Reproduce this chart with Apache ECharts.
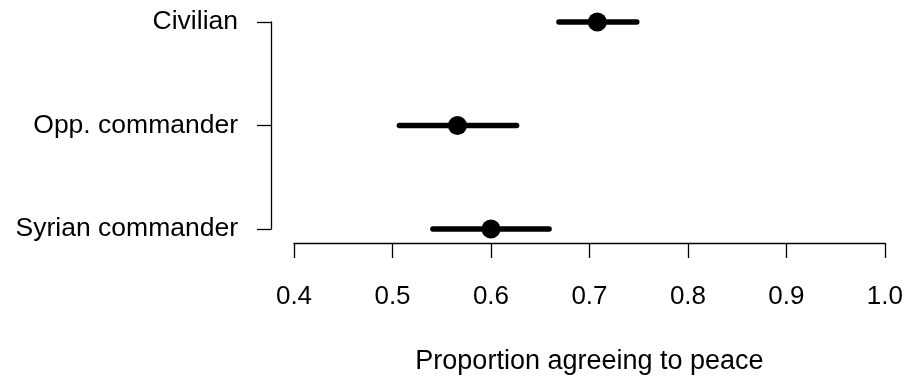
<!DOCTYPE html>
<html>
<head>
<meta charset="utf-8">
<script src="https://cdn.jsdelivr.net/npm/echarts@6/dist/echarts.min.js"></script>
<style>html,body{margin:0;padding:0;background:#fff}#c{width:906px;height:380px}</style>
</head>
<body>
<div id="c"></div>
<script>
var categories = ['Civilian', 'Opp. commander', 'Syrian commander'];
var estimates = [0.708, 0.566, 0.600];
var lower = [0.669, 0.507, 0.541];
var upper = [0.748, 0.626, 0.659];
var xTicks = [0.4, 0.5, 0.6, 0.7, 0.8, 0.9, 1.0];
var xTitle = 'Proportion agreeing to peace';

var FONT = 'Liberation Sans, Arial, Helvetica, sans-serif';
var chart = echarts.init(document.getElementById('c'), null, {renderer: 'canvas'});

var ciData = categories.map(function (c, i) { return [lower[i], upper[i], i]; });
var ptData = categories.map(function (c, i) { return [estimates[i], c]; });

chart.setOption({
  animation: false,
  backgroundColor: '#fff',
  grid: {left: 294, right: 21, top: 22, bottom: 142, containLabel: false},
  xAxis: {
    type: 'value',
    min: xTicks[0], max: xTicks[xTicks.length - 1], interval: 0.1,
    offset: 14,
    splitLine: {show: false},
    axisLine: {show: true, lineStyle: {color: '#000', width: 1.3}},
    axisTick: {show: true, length: 15, lineStyle: {color: '#000', width: 1.3}},
    axisLabel: {color: '#000', fontFamily: FONT, fontSize: 26, margin: 41,
      formatter: function (v) { return v.toFixed(1); }},
    name: xTitle,
    nameLocation: 'middle',
    nameGap: 105,
    nameTextStyle: {color: '#000', fontFamily: FONT, fontSize: 27}
  },
  yAxis: {
    type: 'category',
    data: categories,
    inverse: true,
    boundaryGap: false,
    offset: 23,
    splitLine: {show: false},
    axisLine: {show: true, lineStyle: {color: '#000', width: 1.3}},
    axisTick: {show: true, length: 14, lineStyle: {color: '#000', width: 1.3}},
    axisLabel: {color: '#000', fontFamily: FONT, fontSize: 26.5, margin: 33}
  },
  series: [
    {
      type: 'custom',
      data: ciData,
      encode: {x: [0, 1], y: 2},
      renderItem: function (params, api) {
        var a = api.coord([api.value(0), api.value(2)]);
        var b = api.coord([api.value(1), api.value(2)]);
        return {
          type: 'line',
          shape: {x1: a[0], y1: a[1], x2: b[0], y2: b[1]},
          style: {stroke: '#000', lineWidth: 5.5, lineCap: 'round'}
        };
      },
      z: 2
    },
    {
      type: 'scatter',
      data: ptData,
      symbol: 'circle',
      symbolSize: 19,
      itemStyle: {color: '#000', opacity: 1},
      z: 3
    }
  ]
});
</script>
</body>
</html>
